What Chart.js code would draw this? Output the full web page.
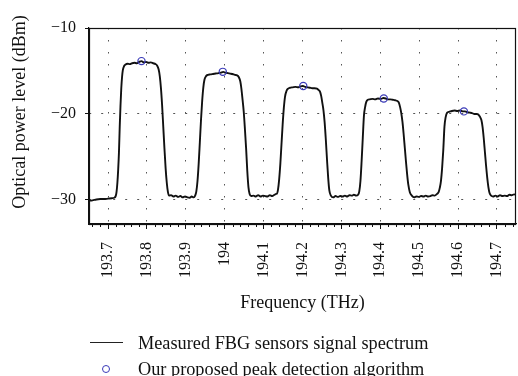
<!DOCTYPE html>
<html>
<head>
<meta charset="utf-8">
<script src="https://cdn.jsdelivr.net/npm/chart.js@4/dist/chart.umd.min.js"></script>
<style>
  body { margin: 0; background: #fff; }
  #wrap { position: relative; width: 518px; height: 376px; font-family: "Liberation Serif", "DejaVu Serif", serif; }
  #legend { position: absolute; left: 0; top: 330px; font-size: 18.3px; color: #111; }
  .row { position: absolute; left: 138px; white-space: nowrap; line-height: 20px; }
  .swatch { position: absolute; }
</style>
</head>
<body>
<div id="wrap">
  <canvas id="spectrum" width="518" height="376"></canvas>
  <div id="legend">
    <div class="swatch" style="left:90px; top:12px; width:33px; height:0; border-top:1.6px solid #222;"></div>
    <div class="row" style="top:3px;">Measured FBG sensors signal spectrum</div>
    <div class="swatch" style="left:102px; top:35px; width:6px; height:6px; border:1.2px solid #3a3ab8; border-radius:50%;"></div>
    <div class="row" style="top:29px;">Our proposed peak detection algorithm</div>
  </div>
</div>
<script>
// measured spectrum (THz, dBm)
const freq = [
  193.651, 193.660, 193.670, 193.680, 193.690, 193.700, 193.710, 193.716,
  193.720, 193.722, 193.724, 193.726, 193.728, 193.730, 193.732, 193.734, 193.736, 193.738, 193.741, 193.745,
  193.750, 193.756, 193.762, 193.768, 193.774, 193.780, 193.786, 193.792, 193.798, 193.804, 193.810, 193.816, 193.822, 193.826,
  193.830, 193.833, 193.836, 193.839, 193.842, 193.845, 193.848, 193.851, 193.854, 193.857,
  193.862, 193.868, 193.874, 193.880, 193.886, 193.892, 193.898, 193.904, 193.910, 193.915,
  193.920, 193.924, 193.927, 193.930, 193.933, 193.936, 193.939, 193.942, 193.945, 193.948, 193.952, 193.957,
  193.963, 193.970, 193.977, 193.984, 193.990, 193.996, 194.002, 194.008, 194.014, 194.020, 194.026, 194.032, 194.036,
  194.040, 194.043, 194.046, 194.049, 194.052, 194.055, 194.058, 194.061, 194.064, 194.068,
  194.074, 194.080, 194.086, 194.092, 194.098, 194.104, 194.110, 194.116, 194.122, 194.128, 194.132,
  194.134, 194.137, 194.140, 194.143, 194.146, 194.149, 194.152, 194.155, 194.159, 194.163, 194.168,
  194.175, 194.182, 194.189, 194.195, 194.201, 194.207, 194.213, 194.219, 194.225, 194.231, 194.237, 194.241,
  194.245, 194.248, 194.251, 194.254, 194.257, 194.260, 194.263, 194.266, 194.269, 194.273,
  194.279, 194.285, 194.291, 194.297, 194.303, 194.309, 194.315, 194.321, 194.327, 194.332, 194.338,
  194.343, 194.346, 194.349, 194.352, 194.355, 194.358, 194.361, 194.364, 194.368, 194.373,
  194.380, 194.387, 194.394, 194.401, 194.408, 194.414, 194.420, 194.426, 194.432, 194.438, 194.444,
  194.448, 194.451, 194.454, 194.457, 194.460, 194.463, 194.466, 194.469, 194.472, 194.476, 194.481,
  194.487, 194.493, 194.499, 194.505, 194.511, 194.517, 194.523, 194.529, 194.534, 194.540, 194.546,
  194.550, 194.553, 194.556, 194.559, 194.562, 194.565, 194.568, 194.572, 194.577,
  194.584, 194.591, 194.598, 194.605, 194.612, 194.618, 194.624, 194.630, 194.636, 194.642, 194.648, 194.652,
  194.656, 194.660, 194.663, 194.666, 194.669, 194.672, 194.675, 194.678, 194.681, 194.685,
  194.690, 194.696, 194.702, 194.708, 194.714, 194.720, 194.726, 194.732, 194.738, 194.744, 194.749
]
const power = [
  -30.1, -30.05, -29.95, -29.9, -29.9, -29.85, -29.8, -29.75,
  -29.5, -29.0, -28.0, -26.5, -24.5, -21.5, -19.0, -17.0, -15.7, -14.9, -14.45, -14.25,
  -14.15, -14.2, -14.1, -14.05, -14.1, -13.95, -13.85, -14.0, -13.95, -14.05, -14.0, -14.1, -14.2, -14.35,
  -14.8, -15.6, -17.0, -19.0, -21.5, -24.0, -26.3, -28.0, -29.1, -29.5,
  -29.45, -29.6, -29.5, -29.65, -29.55, -29.7, -29.6, -29.7, -29.75, -29.6,
  -29.7, -29.5, -29.0, -27.8, -25.8, -23.3, -20.7, -18.5, -16.9, -16.0, -15.6, -15.45,
  -15.4, -15.35, -15.3, -15.25, -15.2, -15.1, -15.2, -15.25, -15.3, -15.35, -15.45, -15.5, -15.7,
  -16.2, -17.1, -18.4, -19.8, -21.8, -24.0, -26.6, -28.5, -29.3, -29.55,
  -29.5, -29.6, -29.45, -29.6, -29.5, -29.55, -29.6, -29.45, -29.55, -29.4, -29.3,
  -29.3, -28.8, -27.6, -25.8, -23.5, -21.2, -19.3, -18.0, -17.3, -17.05, -16.95,
  -16.9, -16.85, -16.9, -16.8, -16.75, -16.85, -16.9, -16.95, -17.0, -17.0, -17.05, -17.2,
  -17.4, -17.9, -18.7, -19.6, -21.0, -23.0, -25.3, -27.4, -28.9, -29.5,
  -29.7, -29.55, -29.65, -29.55, -29.6, -29.5, -29.6, -29.45, -29.5, -29.4, -29.5,
  -29.4, -29.0, -27.8, -25.5, -22.8, -20.2, -19.2, -18.6, -18.35, -18.3,
  -18.25, -18.3, -18.2, -18.25, -18.15, -18.2, -18.3, -18.3, -18.35, -18.4, -18.5,
  -18.7, -19.2, -19.9, -20.9, -22.3, -23.9, -25.5, -27.0, -28.2, -29.1, -29.5,
  -29.7, -29.6, -29.65, -29.55, -29.6, -29.5, -29.6, -29.55, -29.45, -29.5, -29.3,
  -29.1, -28.6, -27.8, -26.3, -24.2, -21.5, -20.4, -19.85, -19.75,
  -19.65, -19.6, -19.65, -19.6, -19.7, -19.7, -19.8, -19.85, -19.9, -20.0, -20.0, -20.05,
  -20.3, -20.7, -21.5, -22.8, -24.4, -26.0, -27.4, -28.5, -29.2, -29.5,
  -29.6, -29.5, -29.6, -29.45, -29.55, -29.5, -29.55, -29.4, -29.45, -29.35, -29.4
]

// detected peaks
const peakFreq = [193.786, 193.995, 194.202, 194.409, 194.615]
const peakPower = [-13.85, -15.1, -16.75, -18.2, -19.7]

const yTicks = [-10, -20, -30]
const yTitle = "Optical power level (dBm)"
const xTitle = "Frequency (THz)"

const serif = "'Liberation Serif', 'DejaVu Serif', serif"

// frame, minor ticks and rotated y title
const framePlugin = {
  id: "frame",
  afterDraw(chart) {
    const { ctx, chartArea: a } = chart
    const xs = chart.scales.x
    ctx.save()
    ctx.strokeStyle = "#111"
    ctx.lineWidth = 1.2
    ctx.strokeRect(a.left + 0.5, a.top + 0.5, a.right - a.left - 1, a.bottom - a.top)

    // minor ticks every 0.02 THz
    ctx.lineWidth = 1
    ctx.beginPath()
    for (let k = 0; ; k++) {
      const v = 193.66 + k * 0.02
      if (v > xs.max) break
      if (Math.abs(v * 10 - Math.round(v * 10)) < 1e-6) continue
      const px = Math.round(xs.getPixelForValue(v)) + 0.5
      ctx.moveTo(px, a.bottom)
      ctx.lineTo(px, a.bottom + 3)
    }
    ctx.stroke()

    ctx.fillStyle = "#111"
    ctx.font = "18px " + serif
    ctx.textAlign = "center"
    ctx.textBaseline = "middle"
    ctx.translate(20, 112)
    ctx.rotate(-Math.PI / 2)
    ctx.fillText(yTitle, 0, 0)
    ctx.restore()
  },
}

const ctx = document.getElementById("spectrum").getContext("2d")

new Chart(ctx, {
  type: "line",
  data: {
    datasets: [
      {
        label: "Measured FBG sensors signal spectrum",
        data: freq.map((f, i) => ({ x: f, y: power[i] })),
        borderColor: "#111",
        borderWidth: 1.9,
        pointRadius: 0,
        cubicInterpolationMode: "monotone",
        order: 2,
      },
      {
        label: "Our proposed peak detection algorithm",
        data: peakFreq.map((f, i) => ({ x: f, y: peakPower[i] })),
        showLine: false,
        pointRadius: 3.6,
        pointBorderWidth: 1.2,
        pointBorderColor: "#3a3ab8",
        pointBackgroundColor: "rgba(0,0,0,0)",
        order: 1,
      },
    ],
  },
  options: {
    responsive: false,
    animation: false,
    devicePixelRatio: 1,
    layout: { autoPadding: false, padding: { top: 28, right: 2, bottom: 62, left: 0 } },
    plugins: {
      legend: { display: false },
      tooltip: { enabled: false },
    },
    scales: {
      x: {
        type: "linear",
        min: 193.651,
        max: 194.749,
        afterFit: (s) => {
          s.height = 90
          s.paddingLeft = 0
          s.paddingRight = 0
        },
        ticks: {
          stepSize: 0.1,
          includeBounds: false,
          minRotation: 90,
          maxRotation: 90,
          padding: 13,
          color: "#111",
          font: { family: serif, size: 16 },
          callback: (v) => {
            if (Math.abs(v * 10 - Math.round(v * 10)) > 1e-6) return ""
            return String(Number(v.toFixed(1)))
          },
        },
        grid: {
          color: "#555",
          lineWidth: 1,
          tickLength: 5,
          tickColor: "#111",
          tickWidth: 1,
        },
        border: { color: "#111", width: 1.2, dash: [1.5, 10.5] },
        title: {
          display: true,
          text: xTitle,
          color: "#111",
          font: { family: serif, size: 18 },
          padding: { top: 0, bottom: 0 },
        },
      },
      y: {
        min: -32.8,
        max: -10,
        afterFit: (s) => {
          s.width = 89
          s.paddingTop = 0
          s.paddingBottom = 0
        },
        afterBuildTicks: (s) => { s.ticks = yTicks.map((v) => ({ value: v })) },
        ticks: {
          padding: 9,
          color: "#111",
          font: { family: serif, size: 16 },
          callback: (v) => String(v).replace("-", "\u2212"),
        },
        grid: {
          color: "#555",
          lineWidth: 1,
          tickLength: 4,
          tickColor: "#111",
          tickWidth: 1,
        },
        border: { color: "#111", width: 1.2, dash: [2, 10] },
      },
    },
  },
  plugins: [framePlugin],
})
</script>
</body>
</html>
